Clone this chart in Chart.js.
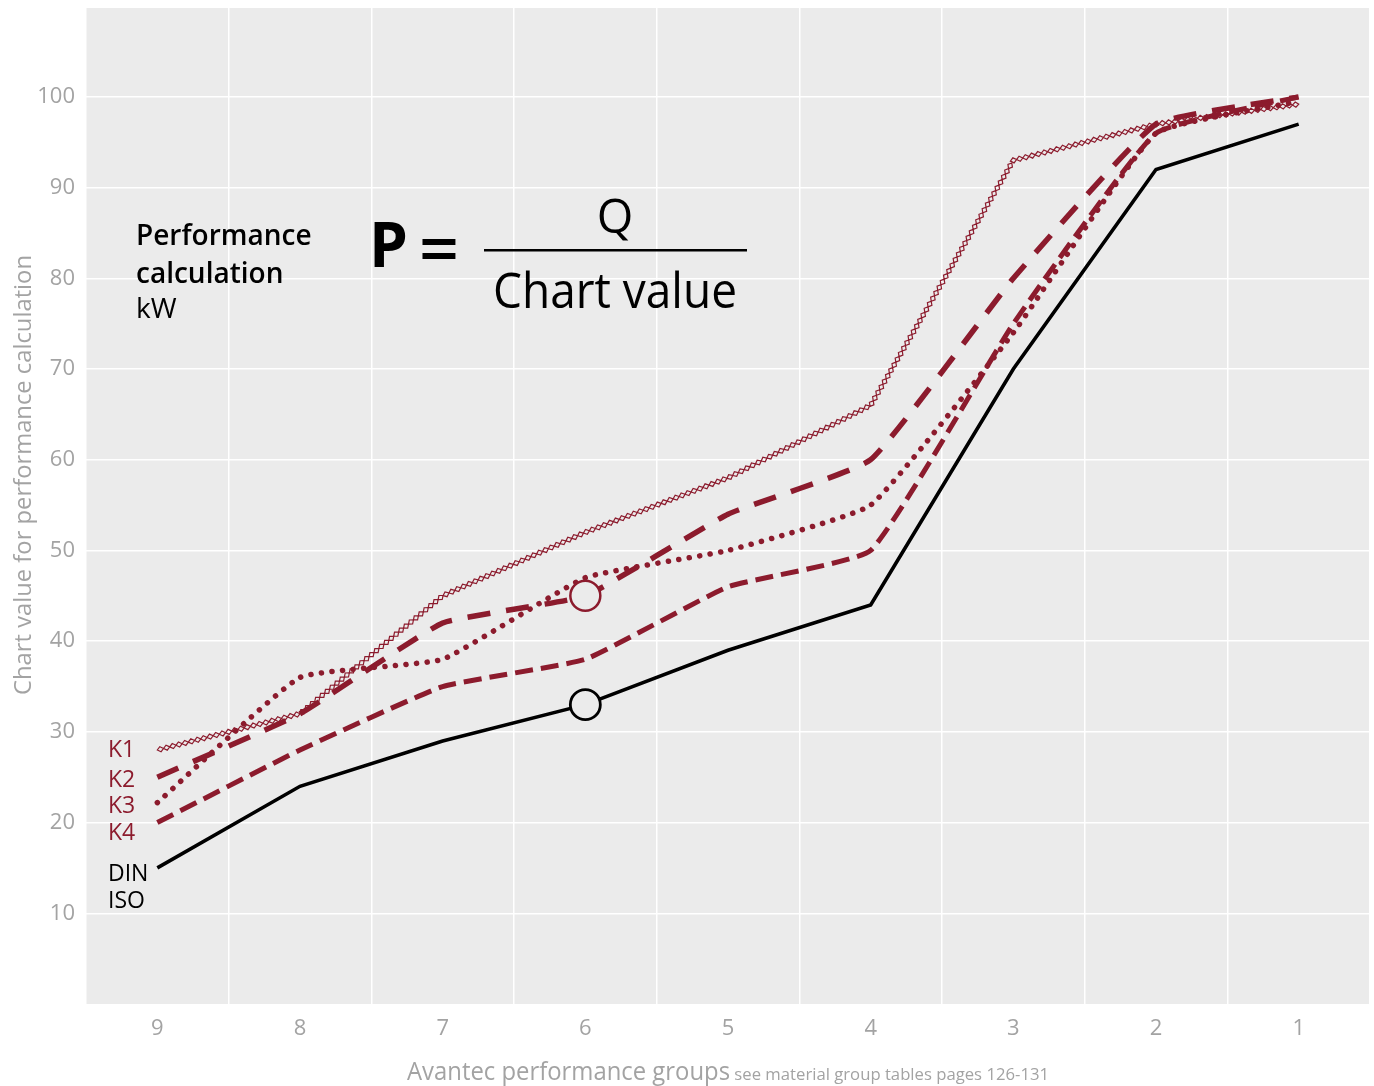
<!DOCTYPE html>
<html>
<head>
<meta charset="utf-8">
<title>Avantec performance groups</title>
<script src="https://cdn.jsdelivr.net/npm/chart.js@4.4.1/dist/chart.umd.min.js"></script>
<style>
  html, body { margin: 0; padding: 0; background: #fff; }
  canvas { display: block; }
</style>
</head>
<body>
<canvas id="chart" width="1374" height="1086"></canvas>
<script>
// performance groups, left to right
const groups = ['9', '8', '7', '6', '5', '4', '3', '2', '1'];

// chart values per group
const din = [15, 24, 29, 33, 39, 44, 70, 92, 97];
const k4 = [20, 28, 35, 38, 46, 50, 75, 96, 100];
const k3 = [22.2, 36, 38, 47, 50, 55, 74, 96, 99.5];
const k2 = [25, 32, 42, 45, 54, 60, 80, 97, 100];
const k1 = [28, 32, 45, 52, 58, 66, 93, 97, 99.2];

const yTicks = [10, 20, 30, 40, 50, 60, 70, 80, 90, 100];
const markedGroup = '6';

const RED = '#8c1b2d';
const GREY = '#a3a3a3';
const PANEL = '#ebebeb';
const FONT = '"Open Sans", "Noto Sans", sans-serif';

Chart.defaults.font.family = FONT;

// one point on the marked group only
function marker(values) {
  return values.map((v, i) => groups[i] === markedGroup ? v : null);
}

// chain of small hollow diamonds along a polyline
function drawDiamondChain(ctx, pts, color) {
  const step = 6.4, hw = 2.6;
  const segs = [];
  let total = 0;
  for (let i = 0; i < pts.length - 1; i++) {
    const a = pts[i], b = pts[i + 1];
    const len = Math.hypot(b.x - a.x, b.y - a.y);
    segs.push({ a, b, len, start: total });
    total += len;
  }
  ctx.save();
  ctx.strokeStyle = color;
  ctx.lineWidth = 1.2;
  for (let d = step / 2; d < total; d += step) {
    const s = segs.find(g => d >= g.start && d <= g.start + g.len) || segs[segs.length - 1];
    const t = (d - s.start) / s.len;
    const ux = (s.b.x - s.a.x) / s.len, uy = (s.b.y - s.a.y) / s.len;
    const cx = s.a.x + (s.b.x - s.a.x) * t, cy = s.a.y + (s.b.y - s.a.y) * t;
    const nx = -uy, ny = ux;
    ctx.beginPath();
    ctx.moveTo(cx - ux * step / 2, cy - uy * step / 2);
    ctx.lineTo(cx + nx * hw, cy + ny * hw);
    ctx.lineTo(cx + ux * step / 2, cy + uy * step / 2);
    ctx.lineTo(cx - nx * hw, cy - ny * hw);
    ctx.closePath();
    ctx.stroke();
  }
  ctx.restore();
}

// no extra room around edge tick labels
function noPadding(scale) {
  scale.paddingTop = 0;
  scale.paddingBottom = 0;
  scale.paddingLeft = 0;
  scale.paddingRight = 0;
}

const panelPlugin = {
  id: 'panel',
  beforeDraw(chart) {
    const { ctx, chartArea: a } = chart;
    ctx.save();
    ctx.fillStyle = '#fff';
    ctx.fillRect(0, 0, chart.width, chart.height);
    ctx.fillStyle = PANEL;
    ctx.fillRect(a.left, a.top, a.right - a.left, a.bottom - a.top);
    ctx.restore();
  },
  afterDatasetDraw(chart, args) {
    if (chart.data.datasets[args.index].chain) {
      const pts = args.meta.data.map(p => ({ x: p.x, y: p.y }));
      drawDiamondChain(chart.ctx, pts, RED);
    }
  }
};

const textPlugin = {
  id: 'texts',
  afterDraw(chart) {
    const { ctx, chartArea: a } = chart;
    ctx.save();
    ctx.textBaseline = 'alphabetic';

    // y axis title
    ctx.save();
    ctx.translate(31, 475);
    ctx.rotate(-Math.PI / 2);
    ctx.fillStyle = GREY;
    ctx.font = '24px ' + FONT;
    ctx.textAlign = 'center';
    ctx.fillText('Chart value for performance calculation', 0, 0, 440);
    ctx.restore();

    // x axis title, two sizes
    const big = 'Avantec performance groups';
    const small = ' see material group tables pages 126-131';
    ctx.fillStyle = GREY;
    ctx.font = '25px ' + FONT;
    const wb = Math.min(ctx.measureText(big).width, 323);
    ctx.font = '17px ' + FONT;
    const ws = Math.min(ctx.measureText(small).width, 319);
    let x0 = (a.left + a.right) / 2 - (wb + ws) / 2;
    ctx.textAlign = 'left';
    ctx.font = '25px ' + FONT;
    ctx.fillText(big, x0, 1080, 323);
    ctx.font = '17px ' + FONT;
    ctx.fillText(small, x0 + wb, 1080, 319);

    // series names at the start of the lines
    const lx = a.left + 22;
    ctx.font = '23px ' + FONT;
    ctx.fillStyle = RED;
    [['K1', 757], ['K2', 787], ['K3', 813], ['K4', 840]].forEach(([t, y]) => ctx.fillText(t, lx, y));
    ctx.fillStyle = '#000';
    ctx.fillText('DIN', lx, 881);
    ctx.fillText('ISO', lx, 908);

    // formula block
    ctx.fillStyle = '#000';
    ctx.font = '600 28px ' + FONT;
    ctx.fillText('Performance', 136, 245, 177);
    ctx.fillText('calculation', 136, 283, 151);
    ctx.font = '28px ' + FONT;
    ctx.fillText('kW', 136, 318);

    ctx.font = 'bold 62px ' + FONT;
    ctx.fillText('P', 369, 267);
    ctx.font = '600 70px ' + FONT;
    ctx.fillText('=', 419, 274, 40);

    ctx.fillRect(484, 249, 263, 2.5);
    ctx.textAlign = 'center';
    ctx.font = '47px ' + FONT;
    ctx.fillText('Q', 615, 233);
    ctx.font = '50px ' + FONT;
    ctx.fillText('Chart value', 615, 308, 244);

    ctx.restore();
  }
};

const lineBase = {
  pointRadius: 0,
  pointHoverRadius: 0,
  fill: false,
  spanGaps: true
};

new Chart(document.getElementById('chart'), {
  type: 'line',
  data: {
    labels: groups,
    datasets: [
      // open circles on group 6
      {
        label: 'K2 marker', data: marker(k2), showLine: false,
        pointRadius: 15, pointBorderWidth: 2.5, pointBorderColor: RED, pointBackgroundColor: PANEL
      },
      {
        label: 'DIN marker', data: marker(din), showLine: false,
        pointRadius: 15, pointBorderWidth: 2.8, pointBorderColor: '#000', pointBackgroundColor: PANEL
      },
      { ...lineBase, label: 'DIN ISO', data: din, borderColor: '#000', borderWidth: 3.6, tension: 0 },
      { ...lineBase, label: 'K4', data: k4, borderColor: RED, borderWidth: 5, borderDash: [18, 8], tension: 0.12 },
      { ...lineBase, label: 'K3', data: k3, borderColor: RED, borderWidth: 5.5, borderDash: [0.1, 10.5], borderCapStyle: 'round', tension: 0.12 },
      { ...lineBase, label: 'K2', data: k2, borderColor: RED, borderWidth: 5.5, borderDash: [23, 16], tension: 0.12 },
      { ...lineBase, label: 'K1', data: k1, borderColor: 'rgba(0,0,0,0)', borderWidth: 0, tension: 0, chain: true }
    ]
  },
  options: {
    responsive: false,
    animation: false,
    events: [],
    layout: { autoPadding: false, padding: { top: 8, right: 4, left: 0, bottom: 0 } },
    plugins: {
      legend: { display: false },
      tooltip: { enabled: false },
      title: { display: false }
    },
    scales: {
      x: {
        type: 'category',
        offset: true,
        border: { display: false },
        grid: { offset: true, color: '#fff', lineWidth: 1.5, drawTicks: false },
        ticks: { color: GREY, font: { size: 22 }, padding: 12, maxRotation: 0 },
        afterFit(scale) { scale.height = 82; noPadding(scale); }
      },
      y: {
        min: 0,
        max: 109.8,
        border: { display: false },
        grid: { color: '#fff', lineWidth: 1.5, drawTicks: false },
        ticks: { color: GREY, font: { size: 22 }, padding: 11, stepSize: 10 },
        afterBuildTicks(scale) { scale.ticks = yTicks.map(v => ({ value: v })); },
        afterFit(scale) { scale.width = 86; noPadding(scale); }
      }
    }
  },
  plugins: [panelPlugin, textPlugin]
});
</script>
</body>
</html>
